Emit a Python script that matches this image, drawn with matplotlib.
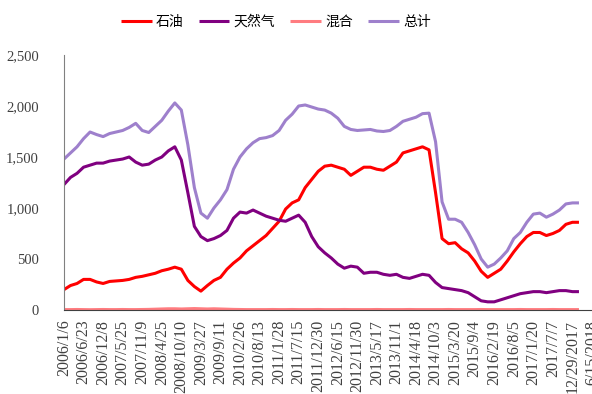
import numpy as np
import matplotlib
matplotlib.use("Agg")
from matplotlib import pyplot as plt

# 周度数据，每 8 周取一个点（2006/1/6 起）
step_weeks = 8
oil = [200, 240, 260, 300, 300, 275, 260, 280, 285, 290,
       300, 320, 330, 345, 360, 385, 400, 420, 400, 290,
       230, 185, 240, 290, 320, 400, 460, 510, 580, 630,
       680, 730, 800, 870, 990, 1050, 1080, 1200, 1280, 1360,
       1410, 1420, 1400, 1380, 1320, 1360, 1400, 1400, 1380, 1370,
       1410, 1450, 1540, 1560, 1580, 1600, 1570, 1150, 700, 650,
       660, 600, 560, 480, 380, 320, 360, 400, 480, 570,
       650, 720, 760, 760, 730, 750, 780, 840, 860, 860]
gas = [1230, 1300, 1340, 1400, 1420, 1440, 1440, 1460, 1470, 1480,
       1500, 1450, 1420, 1430, 1470, 1500, 1560, 1600, 1470, 1150,
       820, 720, 680, 700, 730, 780, 900, 960, 950, 980,
       950, 920, 900, 880, 870, 900, 930, 860, 720, 620,
       560, 510, 450, 410, 430, 420, 360, 370, 370, 350,
       340, 350, 320, 310, 330, 350, 340, 270, 220, 210,
       200, 190, 170, 130, 90, 80, 80, 100, 120, 140,
       160, 170, 180, 180, 170, 180, 190, 190, 180, 180]
mixed = [4, 4, 5, 4, 3, 4, 5, 4, 4, 5,
         4, 4, 5, 6, 8, 10, 12, 12, 10, 12,
         14, 12, 10, 12, 10, 8, 6, 5, 4, 4,
         4, 4, 5, 4, 4, 5, 4, 4, 4, 5,
         4, 4, 4, 5, 4, 4, 4, 4, 5, 4,
         4, 4, 4, 5, 4, 4, 4, 4, 4, 5,
         4, 4, 4, 4, 5, 4, 4, 4, 4, 4,
         5, 4, 4, 4, 4, 5, 4, 4, 4, 4]
total = [1480, 1540, 1600, 1680, 1745, 1720, 1700, 1730, 1745, 1760,
         1790, 1830, 1760, 1740, 1800, 1860, 1950, 2030, 1960, 1620,
         1200, 950, 900, 1000, 1080, 1180, 1380, 1500, 1580, 1640,
         1680, 1690, 1710, 1760, 1860, 1920, 2000, 2010, 1990, 1970,
         1960, 1930, 1880, 1800, 1770, 1760, 1765, 1770, 1755, 1750,
         1760, 1800, 1850, 1870, 1890, 1925, 1930, 1650, 1060, 890,
         890, 860, 760, 640, 500, 420, 450, 510, 580, 700,
         760, 860, 940, 950, 910, 940, 980, 1040, 1050, 1050]

tick_labels = ["2006/1/6", "2006/6/23", "2006/12/8", "2007/5/25", "2007/11/9",
               "2008/4/25", "2008/10/10", "2009/3/27", "2009/9/11", "2010/2/26",
               "2010/8/13", "2011/1/28", "2011/7/15", "2011/12/30", "2012/6/15",
               "2012/11/30", "2013/5/17", "2013/11/1", "2014/4/18", "2014/10/3",
               "2015/3/20", "2015/9/4", "2016/2/19", "2016/8/5", "2017/1/20",
               "2017/7/7", "12/29/2017", "6/15/2018"]
tick_step = 24  # 每 24 周一个标签

weeks = np.arange(len(total)) * step_weeks

fig = plt.figure(figsize=(5.92, 3.94), dpi=100)
ax = fig.add_axes([64 / 592, 84 / 394, 528 / 592, 255 / 394])

ax.plot(weeks, oil, color="#FF0000", lw=2.2, label="石油", solid_capstyle="butt")
ax.plot(weeks, gas, color="#800080", lw=2.2, label="天然气", solid_capstyle="butt")
ax.plot(weeks, mixed, color="#FF7C80", lw=2.2, label="混合", solid_capstyle="butt")
ax.plot(weeks, total, color="#9E80CC", lw=2.2, label="总计", solid_capstyle="butt")

ax.set_xlim(0, 638)
ax.set_ylim(0, 2500)
ax.set_yticks(np.arange(0, 2501, 500))
ax.set_yticklabels(["{:,}".format(v) for v in range(0, 2501, 500)],
                   family="Liberation Serif", fontsize=10.5, color="#404040")
ax.set_xticks(np.arange(len(tick_labels)) * tick_step)
ax.set_xticklabels(tick_labels, rotation=90, family="Liberation Serif",
                   fontsize=11.5, color="#404040", va="top", ha="center")
ax.tick_params(axis="x", length=0, pad=7)
ax.tick_params(axis="y", length=0, pad=18)

for s in ["top", "right"]:
    ax.spines[s].set_visible(False)
ax.spines["left"].set_color("#808080")
ax.spines["bottom"].set_color("#404040")

fig.legend(loc="center", bbox_to_anchor=(0.466, 0.944), ncol=4, frameon=False,
           prop={"family": ["Noto Sans CJK SC", "DejaVu Sans"], "size": 10},
           handlelength=2.2, handletextpad=0.3, columnspacing=1.1)

fig.savefig("out.png", dpi=100)
